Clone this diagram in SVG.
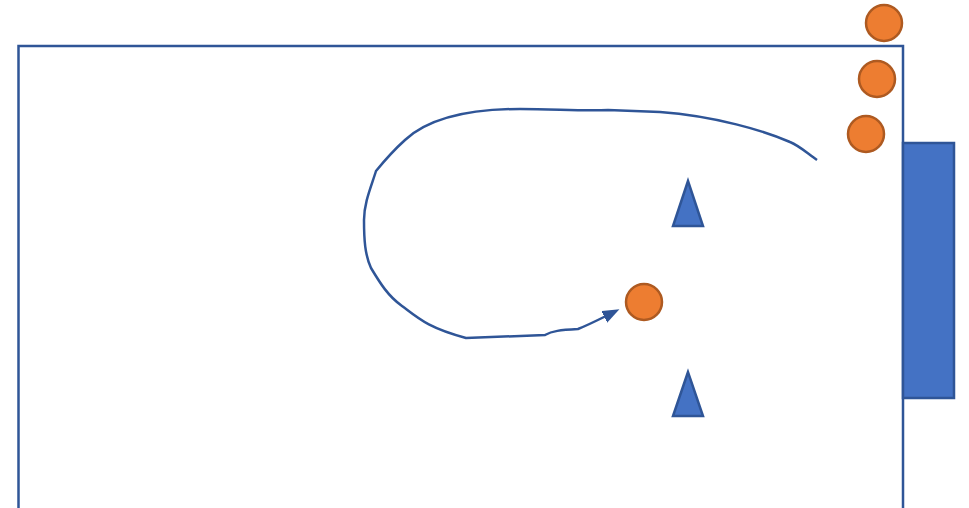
<svg xmlns="http://www.w3.org/2000/svg" width="969" height="508" viewBox="0 0 969 508">
<defs>
<style>
.ball{fill:#ED7D31;stroke:#AE5A21;stroke-width:2.5}
.cone{fill:#4472C4;stroke:#2F5597;stroke-width:2.5;stroke-linejoin:miter}
.line{fill:none;stroke:#2F5597;stroke-width:2.5}
</style>
<marker id="arr" viewBox="0 0 17 13" refX="2" refY="6.5" markerWidth="17" markerHeight="13" markerUnits="userSpaceOnUse" orient="auto">
<path d="M0,0 L17,6.5 L0,13 z" fill="#2F5597"/>
</marker>
</defs>
<rect width="969" height="508" fill="#ffffff"/>
<g id="field"><rect class="line" x="18.5" y="46" width="884.5" height="470"/></g>
<g id="goal"><rect x="903" y="143" width="51" height="255" fill="#4472C4" stroke="#2F5597" stroke-width="2.5"/></g>
<g id="ball1"><circle class="ball" cx="884" cy="23" r="18"/></g>
<g id="ball2"><circle class="ball" cx="877" cy="79" r="18"/></g>
<g id="ball3"><circle class="ball" cx="866" cy="134" r="18"/></g>
<g id="ball4"><circle class="ball" cx="644" cy="302" r="18"/></g>
<g id="cone1"><polygon class="cone" points="688,181 673,226 703,226"/></g>
<g id="cone2"><polygon class="cone" points="688,372 673,416 703,416"/></g>
<g id="connectors">
<path class="line" marker-end="url(#arr)" d="M817,160 C808,154 800,146 790,142 C765,131 715,116 660,112 L608,110 C580,111 555,109 520,109 C470,109 430,117 405,140 C395,149 385,160 376,171 C371,187 364,203 364,220 C364,240 365,255 371,268 C380,283 388,296 402,306 C418,318 428,328 466,338 L545,335 C552,331 560,330 578,329 C588,325 596,321 606,316"/>
</g>
</svg>
